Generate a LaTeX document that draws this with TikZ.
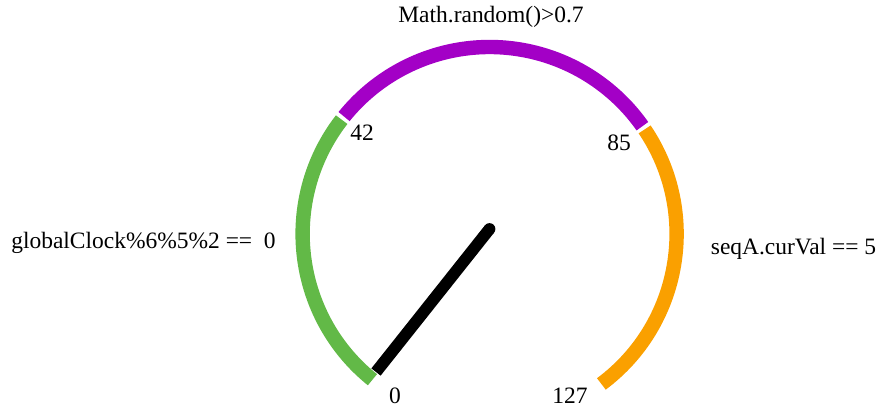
\documentclass[tikz,border=0pt]{standalone}
\usepackage{fontspec}
\setmainfont{Liberation Serif}
\definecolor{gGreen}{RGB}{98,185,71}
\definecolor{gPurple}{RGB}{163,0,198}
\definecolor{gOrange}{RGB}{250,160,0}
\begin{document}
\begin{tikzpicture}[x=0.75pt,y=0.75pt,
  band/.style={line width=10.8pt},
  lbl/.style={font=\fontsize{17.6}{20}\selectfont, inner sep=0pt}]
\useasboundingbox (0,0) rectangle (880,410);
\coordinate (c) at (489.6,176);
\def\R{187}
% bands
\draw[band,gGreen]  (c) ++(231.2:\R) arc[start angle=231.2, end angle=142.3, radius=\R];
\draw[band,gPurple] (c) ++(141.1:\R) arc[start angle=141.1, end angle=35.2, radius=\R];
\draw[band,gOrange] (c) ++(34.0:\R)  arc[start angle=34.0, end angle=-53.3, radius=\R];
% needle
\coordinate (pivot) at (489.5,181);
\coordinate (tip) at (376,38);
\draw[line width=8.8pt,line cap=butt] (tip) -- (pivot);
\fill (pivot) circle[radius=5.87];
% labels
\node[lbl] (v0)   at (395,14)  {0};
\node[lbl] (v127) at (570,14)  {127};
\node[lbl] (v42)  at (362,277) {42};
\node[lbl] (v85)  at (619,267) {85};
\node[lbl] (top)  at (491,393) {Math.random()>0.7};
\node[lbl] (left) at (143.5,167) {globalClock\%6\%5\%2 ==\ \ 0};
\node[lbl] (right) at (793.5,161) {seqA.curVal == 5};
\end{tikzpicture}
\end{document}
